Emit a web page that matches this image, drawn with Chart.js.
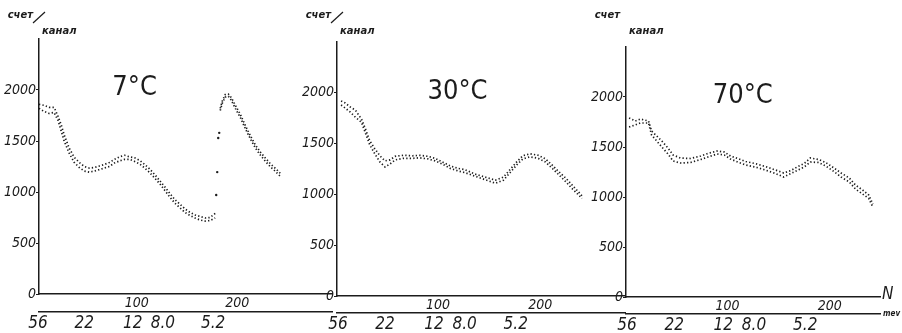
<!DOCTYPE html>
<html>
<head>
<meta charset="utf-8">
<title>счет/канал</title>
<script src="https://cdn.jsdelivr.net/npm/chart.js@4.4.1/dist/chart.umd.min.js"></script>
<style>
  html, body { margin: 0; padding: 0; background: #fff; }
  #wrap { position: relative; width: 902px; height: 333px; overflow: hidden; }
  canvas { position: absolute; top: 0; }
</style>
</head>
<body>
<div id="wrap">
  <canvas id="p7" width="336" height="333" style="left:0px"></canvas>
  <canvas id="p30" width="328" height="333" style="left:298px"></canvas>
  <canvas id="p70" width="315" height="333" style="left:587px"></canvas>
</div>
<script>
// counts per channel vs channel number N, three temperatures

const yTicks = [0, 500, 1000, 1500, 2000];
const nTicks = [100, 200];
const mevLabels = ["56", "22", "12", "8.0", "5.2"];
const mevChannels = [2, 48, 96, 126, 176];

// 7 C, first part (up to the gap)
const ch7 = [3, 8, 13, 18, 22, 25, 28, 33, 38, 43, 48, 53, 58, 63, 68, 73, 78, 83, 88, 93, 98, 103, 108, 113, 118, 123, 128, 133, 138, 143, 148, 153, 158, 163, 168, 173, 178];
const up7 = [1860, 1850, 1830, 1830, 1740, 1660, 1560, 1430, 1340, 1290, 1250, 1235, 1240, 1255, 1270, 1290, 1320, 1345, 1360, 1345, 1335, 1310, 1270, 1225, 1170, 1110, 1050, 985, 925, 880, 835, 800, 775, 760, 745, 750, 790];
const lo7 = [1820, 1790, 1770, 1780, 1700, 1600, 1500, 1380, 1290, 1240, 1205, 1195, 1205, 1220, 1235, 1250, 1285, 1305, 1320, 1320, 1300, 1275, 1235, 1190, 1135, 1080, 1015, 950, 890, 845, 800, 770, 745, 725, 715, 720, 745];
// isolated points on the jump
const ch7gap = [179, 180, 181, 182];
const val7gap = [970, 1195, 1530, 1580];
// 7 C, second peak
const ch7b = [183, 185, 188, 191, 194, 198, 203, 208, 213, 218, 223, 228, 233, 238, 243];
const up7b = [1820, 1890, 1955, 1960, 1925, 1850, 1760, 1650, 1550, 1460, 1390, 1330, 1275, 1230, 1180];
const lo7b = [1800, 1870, 1930, 1940, 1900, 1820, 1730, 1620, 1520, 1430, 1360, 1300, 1245, 1200, 1150];

// 30 C
const ch30 = [5, 9, 14, 19, 25, 29, 33, 38, 43, 48, 53, 58, 66, 75, 82, 90, 97, 105, 112, 120, 126, 136, 146, 156, 164, 171, 177, 183, 190, 198, 205, 212, 218, 225, 231, 237, 241];
const up30 = [1920, 1900, 1860, 1830, 1740, 1640, 1530, 1450, 1380, 1330, 1340, 1375, 1385, 1380, 1385, 1375, 1355, 1315, 1280, 1255, 1245, 1200, 1170, 1140, 1170, 1250, 1320, 1380, 1400, 1385, 1350, 1285, 1225, 1160, 1095, 1030, 985];
const lo30 = [1880, 1850, 1810, 1760, 1710, 1600, 1490, 1400, 1320, 1270, 1300, 1340, 1355, 1355, 1360, 1350, 1330, 1295, 1255, 1230, 1215, 1180, 1145, 1110, 1140, 1220, 1290, 1350, 1370, 1355, 1320, 1255, 1195, 1125, 1060, 1000, 960];

// 70 C
const ch70 = [4, 10, 15, 23, 26, 31, 36, 42, 47, 54, 64, 74, 81, 90, 97, 103, 110, 118, 127, 137, 147, 155, 162, 169, 175, 181, 189, 196, 204, 211, 219, 225, 232, 238, 242];
const up70 = [1790, 1760, 1780, 1760, 1660, 1610, 1560, 1490, 1420, 1390, 1385, 1410, 1435, 1460, 1450, 1410, 1385, 1355, 1335, 1305, 1270, 1240, 1265, 1305, 1335, 1390, 1375, 1345, 1290, 1240, 1190, 1120, 1070, 1020, 930];
const lo70 = [1700, 1720, 1740, 1740, 1620, 1560, 1500, 1430, 1360, 1340, 1345, 1375, 1400, 1430, 1420, 1380, 1350, 1320, 1300, 1270, 1235, 1200, 1235, 1270, 1300, 1350, 1345, 1310, 1255, 1200, 1150, 1080, 1030, 985, 900];

const INK = "#1c1c1c";
const NARROW = "'Liberation Sans Narrow', 'DejaVu Sans Condensed', 'Liberation Sans', sans-serif";

function pts(ch, vals) {
  return ch.map((n, i) => ({ x: n, y: vals[i] }));
}

function dotted(data) {
  return {
    data: data,
    showLine: true,
    borderColor: INK,
    borderWidth: 1.7,
    borderDash: [1.3, 2.2],
    pointRadius: 0,
    tension: 0
  };
}

// temperature, unit label, and the axis names at the far right
const panelText = {
  id: "panelText",
  afterDraw(chart, args, o) {
    const { ctx, chartArea: a, scales } = chart;
    ctx.save();
    ctx.fillStyle = INK;
    ctx.strokeStyle = INK;

    ctx.font = "27px " + NARROW;
    ctx.textAlign = "center";
    ctx.textBaseline = "middle";
    ctx.fillText(o.temp, scales.x.getPixelForValue(o.tempN), scales.y.getPixelForValue(o.tempV));

    ctx.font = "italic bold 10px 'DejaVu Sans'";
    ctx.textBaseline = "alphabetic";
    ctx.textAlign = "right";
    ctx.fillText("счет", a.left - 6, 18);
    ctx.textAlign = "left";
    ctx.fillText("канал", a.left + 3, 34);
    if (o.slash) {
      ctx.lineWidth = 1.2;
      ctx.beginPath();
      ctx.moveTo(a.left - 6, 23);
      ctx.lineTo(a.left + 6, 12);
      ctx.stroke();
    }

    if (o.ends) {
      ctx.font = "italic 17px " + NARROW;
      ctx.textAlign = "left";
      ctx.textBaseline = "middle";
      ctx.fillText("N", a.right + 2, a.bottom - 2);
      ctx.font = "italic bold 8px 'DejaVu Sans Condensed'";
      ctx.fillText("mev", a.right + 3, scales.mev.top);
    }
    ctx.restore();
  }
};

function makePanel(id, p) {
  const tickFont = { family: NARROW, size: 14, style: "italic" };
  new Chart(document.getElementById(id), {
    type: "scatter",
    data: { datasets: p.datasets },
    options: {
      responsive: false,
      animation: false,
      layout: { padding: { left: 3, right: p.padRight, top: p.top, bottom: 0 } },
      scales: {
        x: {
          type: "linear",
          position: "bottom",
          weight: 0,
          min: p.min,
          max: p.max,
          grid: { display: false, drawTicks: false },
          border: { display: true, color: INK, width: 1.5 },
          afterBuildTicks: (s) => { s.ticks = nTicks.map((v) => ({ value: v })); },
          afterFit: (s) => { s.height = p.nHeight; },
          ticks: { font: tickFont, color: INK, padding: 1, maxRotation: 0, autoSkip: false, callback: (v) => String(v) }
        },
        mev: {
          type: "linear",
          position: "bottom",
          weight: 1,
          min: p.min,
          max: p.max,
          grid: { display: false, drawTicks: false },
          border: { display: true, color: INK, width: 1.5 },
          afterBuildTicks: (s) => { s.ticks = mevChannels.map((v) => ({ value: v })); },
          afterFit: (s) => { s.height = p.mevHeight; },
          ticks: {
            font: { family: NARROW, size: 17, style: "italic" },
            color: INK,
            padding: 1,
            maxRotation: 0,
            autoSkip: false,
            callback: (v, i) => mevLabels[i]
          }
        },
        y: {
          type: "linear",
          min: 0,
          max: 2500,
          grid: { display: true, drawOnChartArea: false, drawTicks: true, tickLength: 3, color: INK },
          border: { display: true, color: INK, width: 1.5 },
          afterBuildTicks: (s) => { s.ticks = yTicks.map((v) => ({ value: v })); },
          afterFit: (s) => { s.width = 36; },
          ticks: { font: tickFont, color: INK, padding: 0, callback: (v) => String(v) }
        }
      },
      plugins: {
        legend: { display: false },
        tooltip: { enabled: false },
        panelText: p.text
      }
    },
    plugins: [panelText]
  });
}

makePanel("p7", {
  min: 3, max: 294, top: 39, nHeight: 18, mevHeight: 21, padRight: 0,
  text: { temp: "7°C", tempN: 98, tempV: 2020, slash: true, ends: false },
  datasets: [
    dotted(pts(ch7, up7)),
    dotted(pts(ch7, lo7)),
    { data: pts(ch7gap, val7gap), showLine: false, pointRadius: 1.2, pointBackgroundColor: INK, pointBorderWidth: 0 },
    dotted(pts(ch7b, up7b)),
    dotted(pts(ch7b, lo7b))
  ]
});

makePanel("p30", {
  min: 1, max: 284, top: 42, nHeight: 17, mevHeight: 20, padRight: 0,
  text: { temp: "30°C", tempN: 119, tempV: 2010, slash: true, ends: false },
  datasets: [dotted(pts(ch30, up30)), dotted(pts(ch30, lo30))]
});

makePanel("p70", {
  min: 1, max: 249, top: 47, nHeight: 17, mevHeight: 19, padRight: 22,
  text: { temp: "70°C", tempN: 115, tempV: 2010, slash: false, ends: true },
  datasets: [dotted(pts(ch70, up70)), dotted(pts(ch70, lo70))]
});
</script>
</body>
</html>
